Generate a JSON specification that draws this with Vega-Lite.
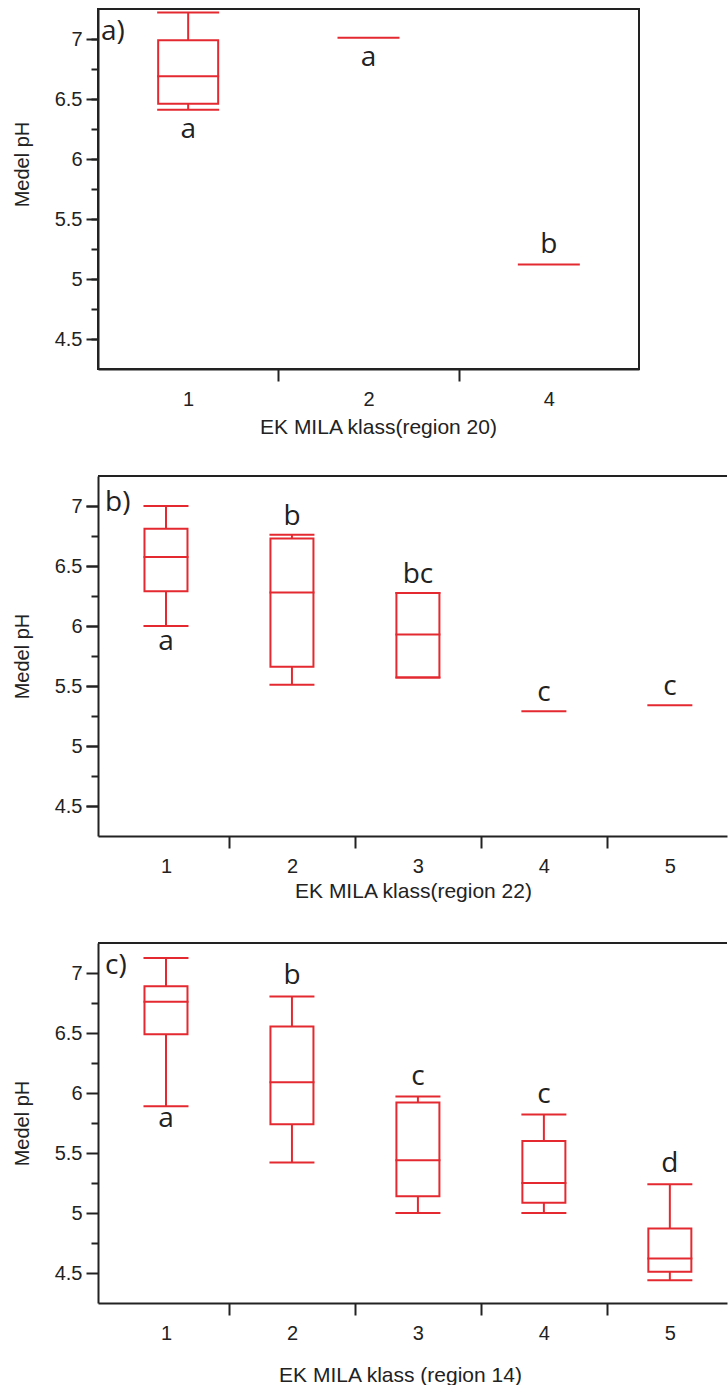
{
  "$schema": "https://vega.github.io/schema/vega-lite/v6.json",
  "autosize": {"type": "pad"},
  "padding": {"left": 11, "top": 8, "right": 0, "bottom": 0},
  "background": "white",
  "bounds": "flush",
  "spacing": 107,
  "config": {
    "font": "Liberation Sans",
    "axis": {"domainColor": "#222", "domainWidth": 2, "tickColor": "#222", "tickWidth": 2, "labelColor": "#222", "labelFont": "Liberation Sans", "labelFontSize": 20, "titleFont": "Liberation Sans", "titleFontSize": 21, "titleFontWeight": "normal", "titleColor": "#222", "grid": false},
    "view": {"stroke": "#222", "strokeWidth": 2},
    "title": {"font": "Open Sans", "fontSize": 28, "fontWeight": "normal", "color": "#222", "anchor": "start", "frame": "group", "orient": "top", "baseline": "alphabetic"}
  },
  "vconcat": [
    {
      "title": {"text": "a)", "offset": -37, "dx": 3},
      "width": 541,
      "height": 360,
      "resolve": {"axis": {"y": "independent"}},
      "data": {"values": [
        {"cls": "1", "lo": 6.41, "q1": 6.46, "med": 6.69, "q3": 6.99, "hi": 7.22, "letter": "a", "side": "below"},
        {"cls": "2", "lo": 7.01, "q1": 7.01, "med": 7.01, "q3": 7.01, "hi": 7.01, "letter": "a", "side": "below"},
        {"cls": "4", "lo": 5.12, "q1": 5.12, "med": 5.12, "q3": 5.12, "hi": 5.12, "letter": "b", "side": "above"}
      ]},
      "encoding": {
        "x": {"field": "cls", "type": "ordinal", "scale": {"domain": ["1", "2", "4"], "paddingInner": 0, "paddingOuter": 0},
              "axis": {"tickBand": "extent", "tickSize": 12, "tickOpacity": {"condition": {"test": "datum.index === 1 || datum.index < 0", "value": 0}, "value": 1}, "labelFontSize": 20, "labelPadding": 8, "labelAngle": 0, "title": "EK MILA klass(region 20)", "titlePadding": 7, "titleX": 280}}
      },
      "layer": [
        {"mark": {"type": "rule", "color": "#e42a30", "strokeWidth": 2},
         "encoding": {"y": {"field": "lo", "type": "quantitative", "scale": {"domain": [4.25, 7.25], "nice": false, "zero": false},
           "axis": {"orient": "left", "title": "Medel pH", "values": [4.5, 5, 5.5, 6, 6.5, 7], "format": "~g", "tickSize": 12, "labelFontSize": 20, "labelPadding": 4, "titleFontSize": 20, "titlePadding": 22, "titleY": 155}},
           "y2": {"field": "hi"}}},
        {"transform": [{"filter": "datum.q3 > datum.q1"}], "mark": {"type": "bar", "fill": "white", "stroke": "#e42a30", "strokeWidth": 2, "width": 60},
         "encoding": {"y": {"field": "q1", "type": "quantitative", "scale": {"domain": [4.25, 7.25], "nice": false, "zero": false}, "axis": null}, "y2": {"field": "q3"}}},
        {"transform": [{"filter": "datum.hi > datum.lo"}], "mark": {"type": "tick", "color": "#e42a30", "thickness": 2, "size": 62, "opacity": 1},
         "encoding": {"y": {"field": "lo", "type": "quantitative", "scale": {"domain": [4.25, 7.25], "nice": false, "zero": false}, "axis": null}}},
        {"transform": [{"filter": "datum.hi > datum.lo"}], "mark": {"type": "tick", "color": "#e42a30", "thickness": 2, "size": 62, "opacity": 1},
         "encoding": {"y": {"field": "hi", "type": "quantitative", "scale": {"domain": [4.25, 7.25], "nice": false, "zero": false},
           "axis": {"orient": "left", "values": [4.5, 5, 5.5, 6, 6.5, 7], "tickSize": 7, "labels": false, "domain": false, "title": null, "grid": false}}}},
        {"mark": {"type": "tick", "color": "#e42a30", "thickness": 2, "size": 62, "opacity": 1},
         "encoding": {"y": {"field": "med", "type": "quantitative", "scale": {"domain": [4.25, 7.25], "nice": false, "zero": false},
           "axis": {"orient": "left", "values": [4.75, 5.25, 5.75, 6.25, 6.75], "tickSize": 7, "labels": false, "domain": false, "title": null, "grid": false}}}},
        {"transform": [{"filter": "datum.side === 'below'"}], "mark": {"type": "text", "font": "Open Sans", "fontSize": 28, "baseline": "alphabetic", "dy": 28, "color": "#222"},
         "encoding": {"y": {"field": "lo", "type": "quantitative", "scale": {"domain": [4.25, 7.25], "nice": false, "zero": false}, "axis": null}, "text": {"field": "letter"}}},
        {"transform": [{"filter": "datum.side === 'above'"}], "mark": {"type": "text", "font": "Open Sans", "fontSize": 28, "baseline": "alphabetic", "dy": -12, "color": "#222"},
         "encoding": {"y": {"field": "hi", "type": "quantitative", "scale": {"domain": [4.25, 7.25], "nice": false, "zero": false}, "axis": null}, "text": {"field": "letter"}}}
      ]
    },
    {
      "title": {"text": "b)", "offset": -42, "dx": 7},
      "width": 629,
      "height": 360,
      "view": {"stroke": null},
      "resolve": {"axis": {"y": "independent"}},
      "data": {"values": [
        {"cls": 1, "lo": 6.0, "q1": 6.29, "med": 6.575, "q3": 6.81, "hi": 7.0, "letter": "a", "side": "below"},
        {"cls": 2, "lo": 5.51, "q1": 5.66, "med": 6.28, "q3": 6.73, "hi": 6.76, "letter": "b", "side": "above"},
        {"cls": 3, "lo": 5.57, "q1": 5.57, "med": 5.93, "q3": 6.275, "hi": 6.275, "letter": "bc", "side": "above"},
        {"cls": 4, "lo": 5.29, "q1": 5.29, "med": 5.29, "q3": 5.29, "hi": 5.29, "letter": "c", "side": "above"},
        {"cls": 5, "lo": 5.34, "q1": 5.34, "med": 5.34, "q3": 5.34, "hi": 5.34, "letter": "c", "side": "above"}
      ]},
      "encoding": {
        "x": {"field": "cls", "type": "quantitative", "scale": {"domain": [0.5, 5.414], "nice": false, "zero": false},
              "axis": {"values": [1, 1.5, 2, 2.5, 3, 3.5, 4, 4.5, 5], "format": "~g", "labelExpr": "datum.value % 1 === 0 ? datum.label : ''", "tickOpacity": {"condition": {"test": "datum.value % 1 === 0", "value": 0}, "value": 1}, "tickSize": 12, "labelFontSize": 20, "labelPadding": 8, "title": "EK MILA klass(region 22)", "titlePadding": 4, "titleX": 315}}
      },
      "layer": [
        {"mark": {"type": "rule", "color": "#e42a30", "strokeWidth": 2},
         "encoding": {"y": {"field": "lo", "type": "quantitative", "scale": {"domain": [4.25, 7.25], "nice": false, "zero": false},
           "axis": {"orient": "left", "title": "Medel pH", "values": [4.5, 5, 5.5, 6, 6.5, 7], "format": "~g", "tickSize": 12, "labelFontSize": 20, "labelPadding": 4, "titleFontSize": 20, "titlePadding": 22}},
           "y2": {"field": "hi"}}},
        {"mark": {"type": "rule", "color": "#222", "strokeWidth": 2},
         "encoding": {"x": null, "y": {"datum": 7.25, "type": "quantitative", "scale": {"domain": [4.25, 7.25], "nice": false, "zero": false},
           "axis": {"orient": "left", "values": [4.5001, 5.0001, 5.5001, 6.0001, 6.5001, 7.0001], "tickSize": 12, "labels": false, "domain": false, "title": null, "grid": false}}}},
        {"transform": [{"filter": "datum.q3 > datum.q1"}], "mark": {"type": "bar", "fill": "white", "stroke": "#e42a30", "strokeWidth": 2, "width": 43},
         "encoding": {"y": {"field": "q1", "type": "quantitative", "scale": {"domain": [4.25, 7.25], "nice": false, "zero": false}, "axis": null}, "y2": {"field": "q3"}}},
        {"transform": [{"filter": "datum.hi > datum.lo"}], "mark": {"type": "tick", "orient": "horizontal", "color": "#e42a30", "thickness": 2, "size": 45, "opacity": 1},
         "encoding": {"y": {"field": "lo", "type": "quantitative", "scale": {"domain": [4.25, 7.25], "nice": false, "zero": false}, "axis": null}}},
        {"transform": [{"filter": "datum.hi > datum.lo"}], "mark": {"type": "tick", "orient": "horizontal", "color": "#e42a30", "thickness": 2, "size": 45, "opacity": 1},
         "encoding": {"y": {"field": "hi", "type": "quantitative", "scale": {"domain": [4.25, 7.25], "nice": false, "zero": false}, "axis": null}}},
        {"mark": {"type": "tick", "orient": "horizontal", "color": "#e42a30", "thickness": 2, "size": 45, "opacity": 1},
         "encoding": {"y": {"field": "med", "type": "quantitative", "scale": {"domain": [4.25, 7.25], "nice": false, "zero": false},
           "axis": {"orient": "left", "values": [4.75, 5.25, 5.75, 6.25, 6.75], "tickSize": 7, "labels": false, "domain": false, "title": null, "grid": false}}}},
        {"transform": [{"filter": "datum.side === 'below'"}], "mark": {"type": "text", "font": "Open Sans", "fontSize": 28, "baseline": "alphabetic", "dy": 24, "color": "#222"},
         "encoding": {"y": {"field": "lo", "type": "quantitative", "scale": {"domain": [4.25, 7.25], "nice": false, "zero": false}, "axis": null}, "text": {"field": "letter"}}},
        {"transform": [{"filter": "datum.side === 'above'"}], "mark": {"type": "text", "font": "Open Sans", "fontSize": 28, "baseline": "alphabetic", "dy": -10, "color": "#222"},
         "encoding": {"y": {"field": "hi", "type": "quantitative", "scale": {"domain": [4.25, 7.25], "nice": false, "zero": false}, "axis": null}, "text": {"field": "letter"}}}
      ]
    },
    {
      "title": {"text": "c)", "offset": -38, "dx": 7},
      "width": 629,
      "height": 360,
      "view": {"stroke": null},
      "resolve": {"axis": {"y": "independent"}},
      "data": {"values": [
        {"cls": 1, "lo": 5.89, "q1": 6.49, "med": 6.76, "q3": 6.89, "hi": 7.125, "letter": "a", "side": "below"},
        {"cls": 2, "lo": 5.42, "q1": 5.74, "med": 6.09, "q3": 6.555, "hi": 6.805, "letter": "b", "side": "above"},
        {"cls": 3, "lo": 5.0, "q1": 5.14, "med": 5.44, "q3": 5.92, "hi": 5.97, "letter": "c", "side": "above"},
        {"cls": 4, "lo": 5.0, "q1": 5.085, "med": 5.25, "q3": 5.6, "hi": 5.82, "letter": "c", "side": "above"},
        {"cls": 5, "lo": 4.44, "q1": 4.51, "med": 4.62, "q3": 4.87, "hi": 5.24, "letter": "d", "side": "above"}
      ]},
      "encoding": {
        "x": {"field": "cls", "type": "quantitative", "scale": {"domain": [0.5, 5.414], "nice": false, "zero": false},
              "axis": {"values": [1, 1.5, 2, 2.5, 3, 3.5, 4, 4.5, 5], "format": "~g", "labelExpr": "datum.value % 1 === 0 ? datum.label : ''", "tickOpacity": {"condition": {"test": "datum.value % 1 === 0", "value": 0}, "value": 1}, "tickSize": 12, "labelFontSize": 20, "labelPadding": 8, "title": "EK MILA klass (region 14)", "titlePadding": 21, "titleX": 302}}
      },
      "layer": [
        {"mark": {"type": "rule", "color": "#e42a30", "strokeWidth": 2},
         "encoding": {"y": {"field": "lo", "type": "quantitative", "scale": {"domain": [4.25, 7.25], "nice": false, "zero": false},
           "axis": {"orient": "left", "title": "Medel pH", "values": [4.5, 5, 5.5, 6, 6.5, 7], "format": "~g", "ticks": true, "tickColor": "#222", "tickOpacity": 1, "tickWidth": 2, "tickSize": 12, "labelFontSize": 20, "labelPadding": 4, "titleFontSize": 20, "titlePadding": 22}},
           "y2": {"field": "hi"}}},
        {"mark": {"type": "rule", "color": "#222", "strokeWidth": 2},
         "encoding": {"x": null, "y": {"datum": 7.25, "type": "quantitative", "scale": {"domain": [4.25, 7.25], "nice": false, "zero": false}, "axis": null}}},
        {"transform": [{"filter": "datum.q3 > datum.q1"}], "mark": {"type": "bar", "fill": "white", "stroke": "#e42a30", "strokeWidth": 2, "width": 43},
         "encoding": {"y": {"field": "q1", "type": "quantitative", "scale": {"domain": [4.25, 7.25], "nice": false, "zero": false}, "axis": null}, "y2": {"field": "q3"}}},
        {"transform": [{"filter": "datum.hi > datum.lo"}], "mark": {"type": "tick", "orient": "horizontal", "color": "#e42a30", "thickness": 2, "size": 45, "opacity": 1},
         "encoding": {"y": {"field": "lo", "type": "quantitative", "scale": {"domain": [4.25, 7.25], "nice": false, "zero": false}, "axis": null}}},
        {"transform": [{"filter": "datum.hi > datum.lo"}], "mark": {"type": "tick", "orient": "horizontal", "color": "#e42a30", "thickness": 2, "size": 45, "opacity": 1},
         "encoding": {"y": {"field": "hi", "type": "quantitative", "scale": {"domain": [4.25, 7.25], "nice": false, "zero": false}, "axis": null}}},
        {"mark": {"type": "tick", "orient": "horizontal", "color": "#e42a30", "thickness": 2, "size": 45, "opacity": 1},
         "encoding": {"y": {"field": "med", "type": "quantitative", "scale": {"domain": [4.25, 7.25], "nice": false, "zero": false},
           "axis": {"orient": "left", "values": [4.75, 5.25, 5.75, 6.25, 6.75], "tickSize": 7, "labels": false, "domain": false, "title": null, "grid": false}}}},
        {"transform": [{"filter": "datum.side === 'below'"}], "mark": {"type": "text", "font": "Open Sans", "fontSize": 28, "baseline": "alphabetic", "dy": 21, "color": "#222"},
         "encoding": {"y": {"field": "lo", "type": "quantitative", "scale": {"domain": [4.25, 7.25], "nice": false, "zero": false}, "axis": null}, "text": {"field": "letter"}}},
        {"transform": [{"filter": "datum.side === 'above'"}], "mark": {"type": "text", "font": "Open Sans", "fontSize": 28, "baseline": "alphabetic", "dy": -12, "color": "#222"},
         "encoding": {"y": {"field": "hi", "type": "quantitative", "scale": {"domain": [4.25, 7.25], "nice": false, "zero": false}, "axis": null}, "text": {"field": "letter"}}}
      ]
    }
  ]
}
